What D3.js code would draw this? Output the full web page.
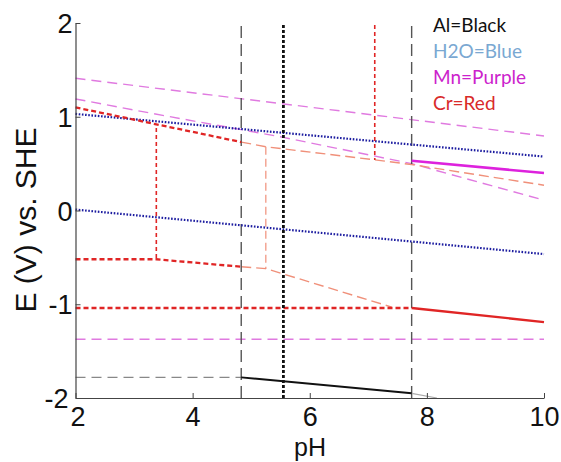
<!DOCTYPE html>
<html><head><meta charset="utf-8">
<script src="https://cdn.jsdelivr.net/npm/d3@7"></script>
<style>body{margin:0;background:#fff}svg{display:block}</style>
</head><body>
<svg id="c" width="561" height="462"></svg>
<script>
// ---- data ----
const phDomain = [2, 10];
const eDomain = [-2, 2];
const xTicks = [2, 4, 6, 8, 10];
const yTicks = [-2, -1, 0, 1, 2];
const legendLabels = ["Al=Black", "H2O=Blue", "Mn=Purple", "Cr=Red"];

// Al
const alVertPH = [4.83, 7.74];
const alVertE = [-2, 1.98];
const alDotPH = [5.55];
const alDashPH = [2, 4.83], alDashE = [-1.78, -1.78];
const alSolidPH = [4.83, 7.74], alSolidE = [-1.78, -1.95];
const alTailPH = [7.74, 8.17], alTailE = [-1.95, -2.0];
// H2O
const h2oUpperPH = [2, 10], h2oUpperE = [1.03, 0.575];
const h2oLowerPH = [2, 10], h2oLowerE = [0.01, -0.465];
// Mn
const mnUpperPH = [2, 10], mnUpperE = [1.41, 0.795];
const mnLowerPH = [2, 3.27, 5.55, 7.74, 10], mnLowerE = [1.19, 1.04, 0.78, 0.50, 0.11];
const mnSolidPH = [7.74, 10], mnSolidE = [0.53, 0.40];
const mnBottomPH = [2, 10], mnBottomE = [-1.374, -1.374];
// Cr
const crTopThickPH = [2, 4.83], crTopThickE = [1.10, 0.73];
const crTopThinPH = [4.83, 5.25, 7.11, 7.74, 10], crTopThinE = [0.73, 0.68, 0.54, 0.49, 0.27];
const crV1PH = [3.38, 3.38], crV1E = [0.88, -0.52];
const crV2PH = [5.25, 5.25], crV2E = [0.68, -0.62];
const crV3PH = [7.11, 7.11], crV3E = [1.98, 0.54];
const crMidThickPH = [2, 3.38, 4.83], crMidThickE = [-0.52, -0.52, -0.60];
const crMidThinPH = [4.83, 5.25, 7.40], crMidThinE = [-0.60, -0.62, -1.03];
const crLowDashPH = [2, 7.74], crLowDashE = [-1.04, -1.04];
const crLowSolidPH = [7.74, 10], crLowSolidE = [-1.04, -1.19];

// ---- chart ----
const svg = d3.select("#c");
const x = d3.scaleLinear().domain(phDomain).range([75.5, 544]);
const y = d3.scaleLinear().domain(eDomain).range([398, 23]);
const line = d3.line().x(d => x(d[0])).y(d => y(d[1]));
const pts = (a, b) => a.map((v, i) => [v, b[i]]);

function draw(p, e, color, width, dash) {
  svg.append("path").attr("d", line(pts(p, e)))
    .attr("fill", "none").attr("stroke", color).attr("stroke-width", width)
    .attr("stroke-dasharray", dash || null);
}

const pink = "#e07ae0", salmon = "#f0907a", red = "#e02525", blue = "#1c1ca0", gray = "#555";

// Mn pink dashed
draw(mnUpperPH, mnUpperE, pink, 1.4, "10,6");
draw(mnLowerPH, mnLowerE, pink, 1.4, "10,6");
draw(mnBottomPH, mnBottomE, pink, 1.4, "10,6");
// Cr thin
draw(crTopThinPH, crTopThinE, salmon, 1.4, "10,5");
draw(crMidThinPH, crMidThinE, salmon, 1.4, "10,5");
draw(crV2PH, crV2E, salmon, 1.2, "8,4");
// Al gray
draw(alDashPH, alDashE, "#888", 1.4, "10,6");
alVertPH.forEach(p => draw([p, p], alVertE, gray, 1.4, "12,6"));
draw(alTailPH, alTailE, "#aaa", 1.2);
// H2O
draw(h2oUpperPH, h2oUpperE, blue, 2.2, "1.6,1.6");
draw(h2oLowerPH, h2oLowerE, blue, 2.2, "1.6,1.6");
// Cr thick
draw(crTopThickPH, crTopThickE, red, 2.3, "5,3");
draw(crMidThickPH, crMidThickE, red, 2.3, "5,3");
draw(crLowDashPH, crLowDashE, red, 2.3, "5,3");
draw(crLowSolidPH, crLowSolidE, red, 2.3);
draw(crV1PH, crV1E, red, 1.6, "4,3");
draw(crV3PH, crV3E, red, 1.6, "4,3");
// Mn solid
draw(mnSolidPH, mnSolidE, "#dd22dd", 2.6);
// Al solid + dotted
draw(alSolidPH, alSolidE, "#111", 2);
alDotPH.forEach(p => draw([p, p], alVertE, "#111", 2.8, "3,2"));

// axes
const font = "'Liberation Sans', Arial, sans-serif";
const fmt = d => String(d);
const gx = svg.append("g").attr("transform", "translate(0,398)")
  .call(d3.axisBottom(x).tickValues(xTicks).tickSizeInner(-5).tickSizeOuter(0).tickPadding(9).tickFormat(fmt));
const gy = svg.append("g").attr("transform", "translate(75.5,0)")
  .call(d3.axisLeft(y).tickValues(yTicks).tickSizeInner(-5).tickSizeOuter(0).tickPadding(3).tickFormat(fmt));
[gx, gy].forEach(g => {
  g.select(".domain").attr("stroke", "#444").attr("stroke-width", 1.2);
  g.selectAll(".tick line").attr("stroke", "#444");
  g.selectAll(".tick text").attr("fill", "#111").style("font-family", font).style("font-size", "27px");
});
gx.selectAll(".tick text").attr("dy", "0.71em");
gy.selectAll(".tick text").attr("dy", "0.36em");
// corner labels: nudge apart like the reference ("-2" sits just left of the x "2")
gy.selectAll(".tick text").filter(d => d === eDomain[0]).attr("x", -7);
gx.selectAll(".tick text").filter(d => d === phDomain[0]).attr("x", 2);

svg.append("text").attr("x", 310).attr("y", 456).attr("text-anchor", "middle")
  .style("font-family", font).style("font-size", "25px").attr("fill", "#111").text("pH");
svg.append("text").attr("transform", "translate(36,220) rotate(-90)").attr("text-anchor", "middle")
  .style("font-family", font).style("font-size", "30px").attr("fill", "#111").text("E (V) vs. SHE");

// legend
const legendColors = ["#111", "#7aa8d2", "#cc22cc", "#d92a2a"];
svg.selectAll(".lg").data(legendLabels).join("text")
  .attr("x", 433).attr("y", (d, i) => 32 + i * 26)
  .style("font-family", "Lato, 'Open Sans', sans-serif").style("font-size", "19px")
  .attr("fill", (d, i) => legendColors[i]).text(d => d);
</script>
</body></html>
